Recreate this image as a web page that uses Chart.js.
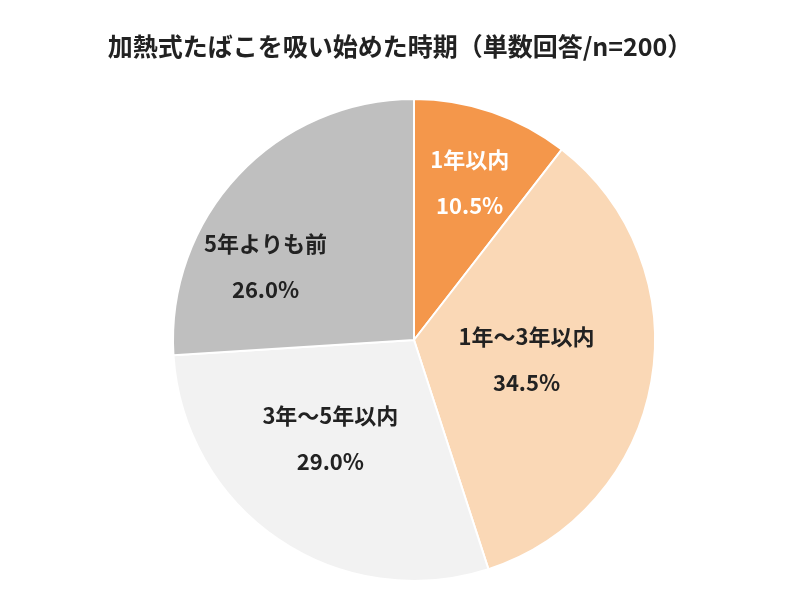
<!DOCTYPE html>
<html><head><meta charset="utf-8">
<script src="https://cdn.jsdelivr.net/npm/chart.js@4"></script>
<style>html,body{margin:0;background:#fff}#w{width:799px;height:607px}</style>
</head><body><div id="w"><canvas id="c"></canvas></div>
<script>
const categories = ["1年以内","1年～3年以内","3年～5年以内","5年よりも前"];
const values = [10.5, 34.5, 29.0, 26.0];
const titleText = "加熱式たばこを吸い始めた時期（単数回答/n=200）";
const colors = ["#F4974B","#FAD8B6","#F2F2F2","#BFBFBF"];
const labelColors = ["#ffffff","#222222","#222222","#222222"];
const labelPos = [[0.231,-0.655],[0.467,0.083],[-0.347,0.409],[-0.616,-0.306]];
const font = "'Noto Sans CJK JP', 'Noto Sans', sans-serif";
const labels = {
  id:'labels',
  afterDraw(chart){
    const ctx = chart.ctx;
    ctx.save();
    ctx.fillStyle = "#222";
    ctx.font = "bold 25px " + font;
    ctx.textAlign = "center"; ctx.textBaseline = "middle";
    ctx.fillText(titleText, 400, 46);
    const arcs = chart.getDatasetMeta(0).data;
    arcs.forEach((a,i)=>{
      const r = a.outerRadius, x = a.x + labelPos[i][0]*r, y = a.y + labelPos[i][1]*r;
      ctx.fillStyle = labelColors[i];
      ctx.font = "bold 22px " + font;
      ctx.fillText(categories[i], x, y-23);
      ctx.fillText(values[i].toFixed(1)+"%", x, y+23);
    });
    ctx.restore();
  }
};
new Chart(document.getElementById('c'),{
  type:'pie',
  data:{labels:categories,datasets:[{data:values,backgroundColor:colors,borderColor:"#fff",borderWidth:2}]},
  options:{responsive:true,maintainAspectRatio:false,animation:false,
    layout:{padding:{top:97,bottom:24,left:172,right:143}},
    plugins:{legend:{display:false},tooltip:{enabled:false}}},
  plugins:[labels]
});
</script></body></html>
